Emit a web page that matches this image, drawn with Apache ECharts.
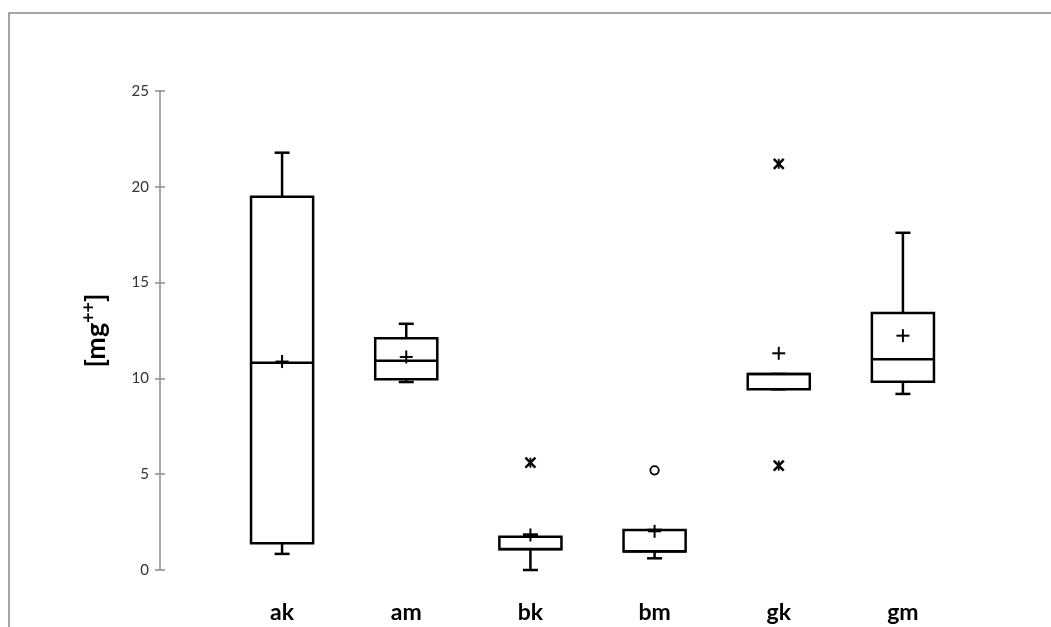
<!DOCTYPE html>
<html>
<head>
<meta charset="utf-8">
<script src="https://cdn.jsdelivr.net/npm/echarts@6/dist/echarts.min.js"></script>
<style>
html,body{margin:0;padding:0;background:#fff;}
#chart{width:1051px;height:627px;}
</style>
</head>
<body>
<div id="chart"></div>
<script>
// ---- data ----
const categories = ['ak', 'am', 'bk', 'bm', 'gk', 'gm'];
const whiskerLow  = [0.84, 9.81, 0.00, 0.61, 9.43, 9.19];
const quartile1   = [1.39, 9.95, 1.08, 0.96, 9.43, 9.83];
const medians     = [10.82, 10.92, 1.10, 0.98, 10.23, 11.00];
const quartile3   = [19.48, 12.09, 1.74, 2.09, 10.23, 13.41];
const whiskerHigh = [21.78, 12.85, 1.85, 2.09, 10.23, 17.60];
const means       = [10.88, 11.12, 1.83, 2.02, 11.31, 12.23];

const outlierCategory = ['bk', 'bm', 'gk', 'gk'];
const outlierValue    = [5.60, 5.20, 21.20, 5.45];
const outlierShape    = ['star', 'circle', 'star', 'star'];

const yMin = 0, yMax = 25, yInterval = 5;
const yAxisTitleBase = '[mg';
const yAxisTitleSup = '++';
const yAxisTitleEnd = ']';

// ---- build ----
const boxData = categories.map((c, k) => [k, whiskerLow[k], quartile1[k], medians[k], quartile3[k], whiskerHigh[k], means[k]]);
const outData = outlierCategory.map((c, k) => [categories.indexOf(c), outlierValue[k]]);

const FONT = 'Lato, "Open Sans", sans-serif';
const LW = 2.5;

function renderBox(params, api) {
  const i = api.value(0);
  const x = api.coord([i, 0])[0];
  const band = api.size([1, 0])[0];
  const hw = band * 0.25;
  const cw = 7.5;
  const Y = v => api.coord([i, v])[1];
  const yLo = Y(api.value(1)), yQ1 = Y(api.value(2)), yMed = Y(api.value(3)),
        yQ3 = Y(api.value(4)), yHi = Y(api.value(5)), yMean = Y(api.value(6));
  const st = { stroke: '#000', lineWidth: LW, fill: null };
  const pm = 6.5;
  return {
    type: 'group',
    children: [
      { type: 'line', shape: { x1: x, y1: yHi, x2: x, y2: yLo }, style: st },
      { type: 'line', shape: { x1: x - cw, y1: yHi, x2: x + cw, y2: yHi }, style: st },
      { type: 'line', shape: { x1: x - cw, y1: yLo, x2: x + cw, y2: yLo }, style: st },
      { type: 'rect', shape: { x: x - hw, y: yQ3, width: 2 * hw, height: yQ1 - yQ3 },
        style: { stroke: '#000', lineWidth: LW, fill: '#fff' } },
      { type: 'line', shape: { x1: x - hw, y1: yMed, x2: x + hw, y2: yMed }, style: st },
      { type: 'line', shape: { x1: x - pm, y1: yMean, x2: x + pm, y2: yMean }, style: { stroke: '#000', lineWidth: 2 } },
      { type: 'line', shape: { x1: x, y1: yMean - pm, x2: x, y2: yMean + pm }, style: { stroke: '#000', lineWidth: 2 } }
    ]
  };
}

function renderOutlier(params, api) {
  const p = api.coord([api.value(0), api.value(1)]);
  const shape = outlierShape[params.dataIndex];
  if (shape === 'circle') {
    return { type: 'circle', shape: { cx: p[0], cy: p[1], r: 4.2 },
      style: { stroke: '#000', lineWidth: 1.8, fill: '#fff' } };
  }
  const s = 5;
  const st = { stroke: '#000', lineWidth: 2.4 };
  return {
    type: 'group',
    children: [
      { type: 'line', shape: { x1: p[0] - s, y1: p[1] - s, x2: p[0] + s, y2: p[1] + s }, style: st },
      { type: 'line', shape: { x1: p[0] - s, y1: p[1] + s, x2: p[0] + s, y2: p[1] - s }, style: st },
      { type: 'line', shape: { x1: p[0], y1: p[1] - s, x2: p[0], y2: p[1] + s }, style: { stroke: '#000', lineWidth: 1.8 } }
    ]
  };
}

const chart = echarts.init(document.getElementById('chart'), null, { renderer: 'canvas' });
chart.setOption({
  animation: false,
  backgroundColor: '#fff',
  textStyle: { fontFamily: FONT },
  grid: { left: 220, right: 86, top: 91, bottom: 57 },
  graphic: [{
    type: 'rect', z: 100, silent: true,
    shape: { x: 9, y: 13, width: 1200, height: 800 },
    style: { fill: null, stroke: '#888', lineWidth: 1.5 }
  }],
  xAxis: {
    type: 'category',
    data: categories,
    boundaryGap: true,
    axisLine: { show: false },
    axisTick: { show: false },
    splitLine: { show: false },
    axisLabel: { margin: 31, fontSize: 23, fontWeight: 'bold', color: '#000', fontFamily: FONT }
  },
  yAxis: [{
    type: 'value',
    min: yMin, max: yMax, interval: yInterval,
    offset: 60,
    name: '{b|' + yAxisTitleBase + '}{s|' + yAxisTitleSup + '}{b|' + yAxisTitleEnd + '}',
    nameLocation: 'middle',
    nameGap: 50,
    nameRotate: 90,
    nameTextStyle: {
      fontSize: 27, fontWeight: 'bold', color: '#000', fontFamily: FONT,
      rich: {
        b: { fontSize: 27, fontWeight: 'bold', color: '#000', fontFamily: FONT, lineHeight: 30, verticalAlign: 'bottom' },
        s: { fontSize: 18, fontWeight: 'bold', color: '#000', fontFamily: FONT, lineHeight: 30, verticalAlign: 'top', padding: [0, 0, 10, 0] }
      }
    },
    axisLine: { show: true, lineStyle: { color: '#8c8c8c', width: 1.5 } },
    axisTick: { show: true, length: 5, lineStyle: { color: '#8c8c8c', width: 1.5 } },
    splitLine: { show: false },
    axisLabel: { margin: 11, fontSize: 15, color: '#333', fontFamily: FONT }
  }, {
    type: 'value',
    position: 'left',
    min: yMin, max: yMax, interval: yInterval,
    offset: 60,
    axisLine: { show: false },
    axisTick: { show: true, inside: true, length: 5, lineStyle: { color: '#8c8c8c', width: 1.5 } },
    axisLabel: { show: false },
    splitLine: { show: false }
  }],
  series: [{
    type: 'custom',
    renderItem: renderBox,
    data: boxData,
    encode: { x: 0, y: [1, 2, 3, 4, 5, 6] },
    clip: false,
    z: 2
  }, {
    type: 'custom',
    renderItem: renderOutlier,
    data: outData,
    encode: { x: 0, y: 1 },
    clip: false,
    z: 3
  }]
});
</script>
</body>
</html>
